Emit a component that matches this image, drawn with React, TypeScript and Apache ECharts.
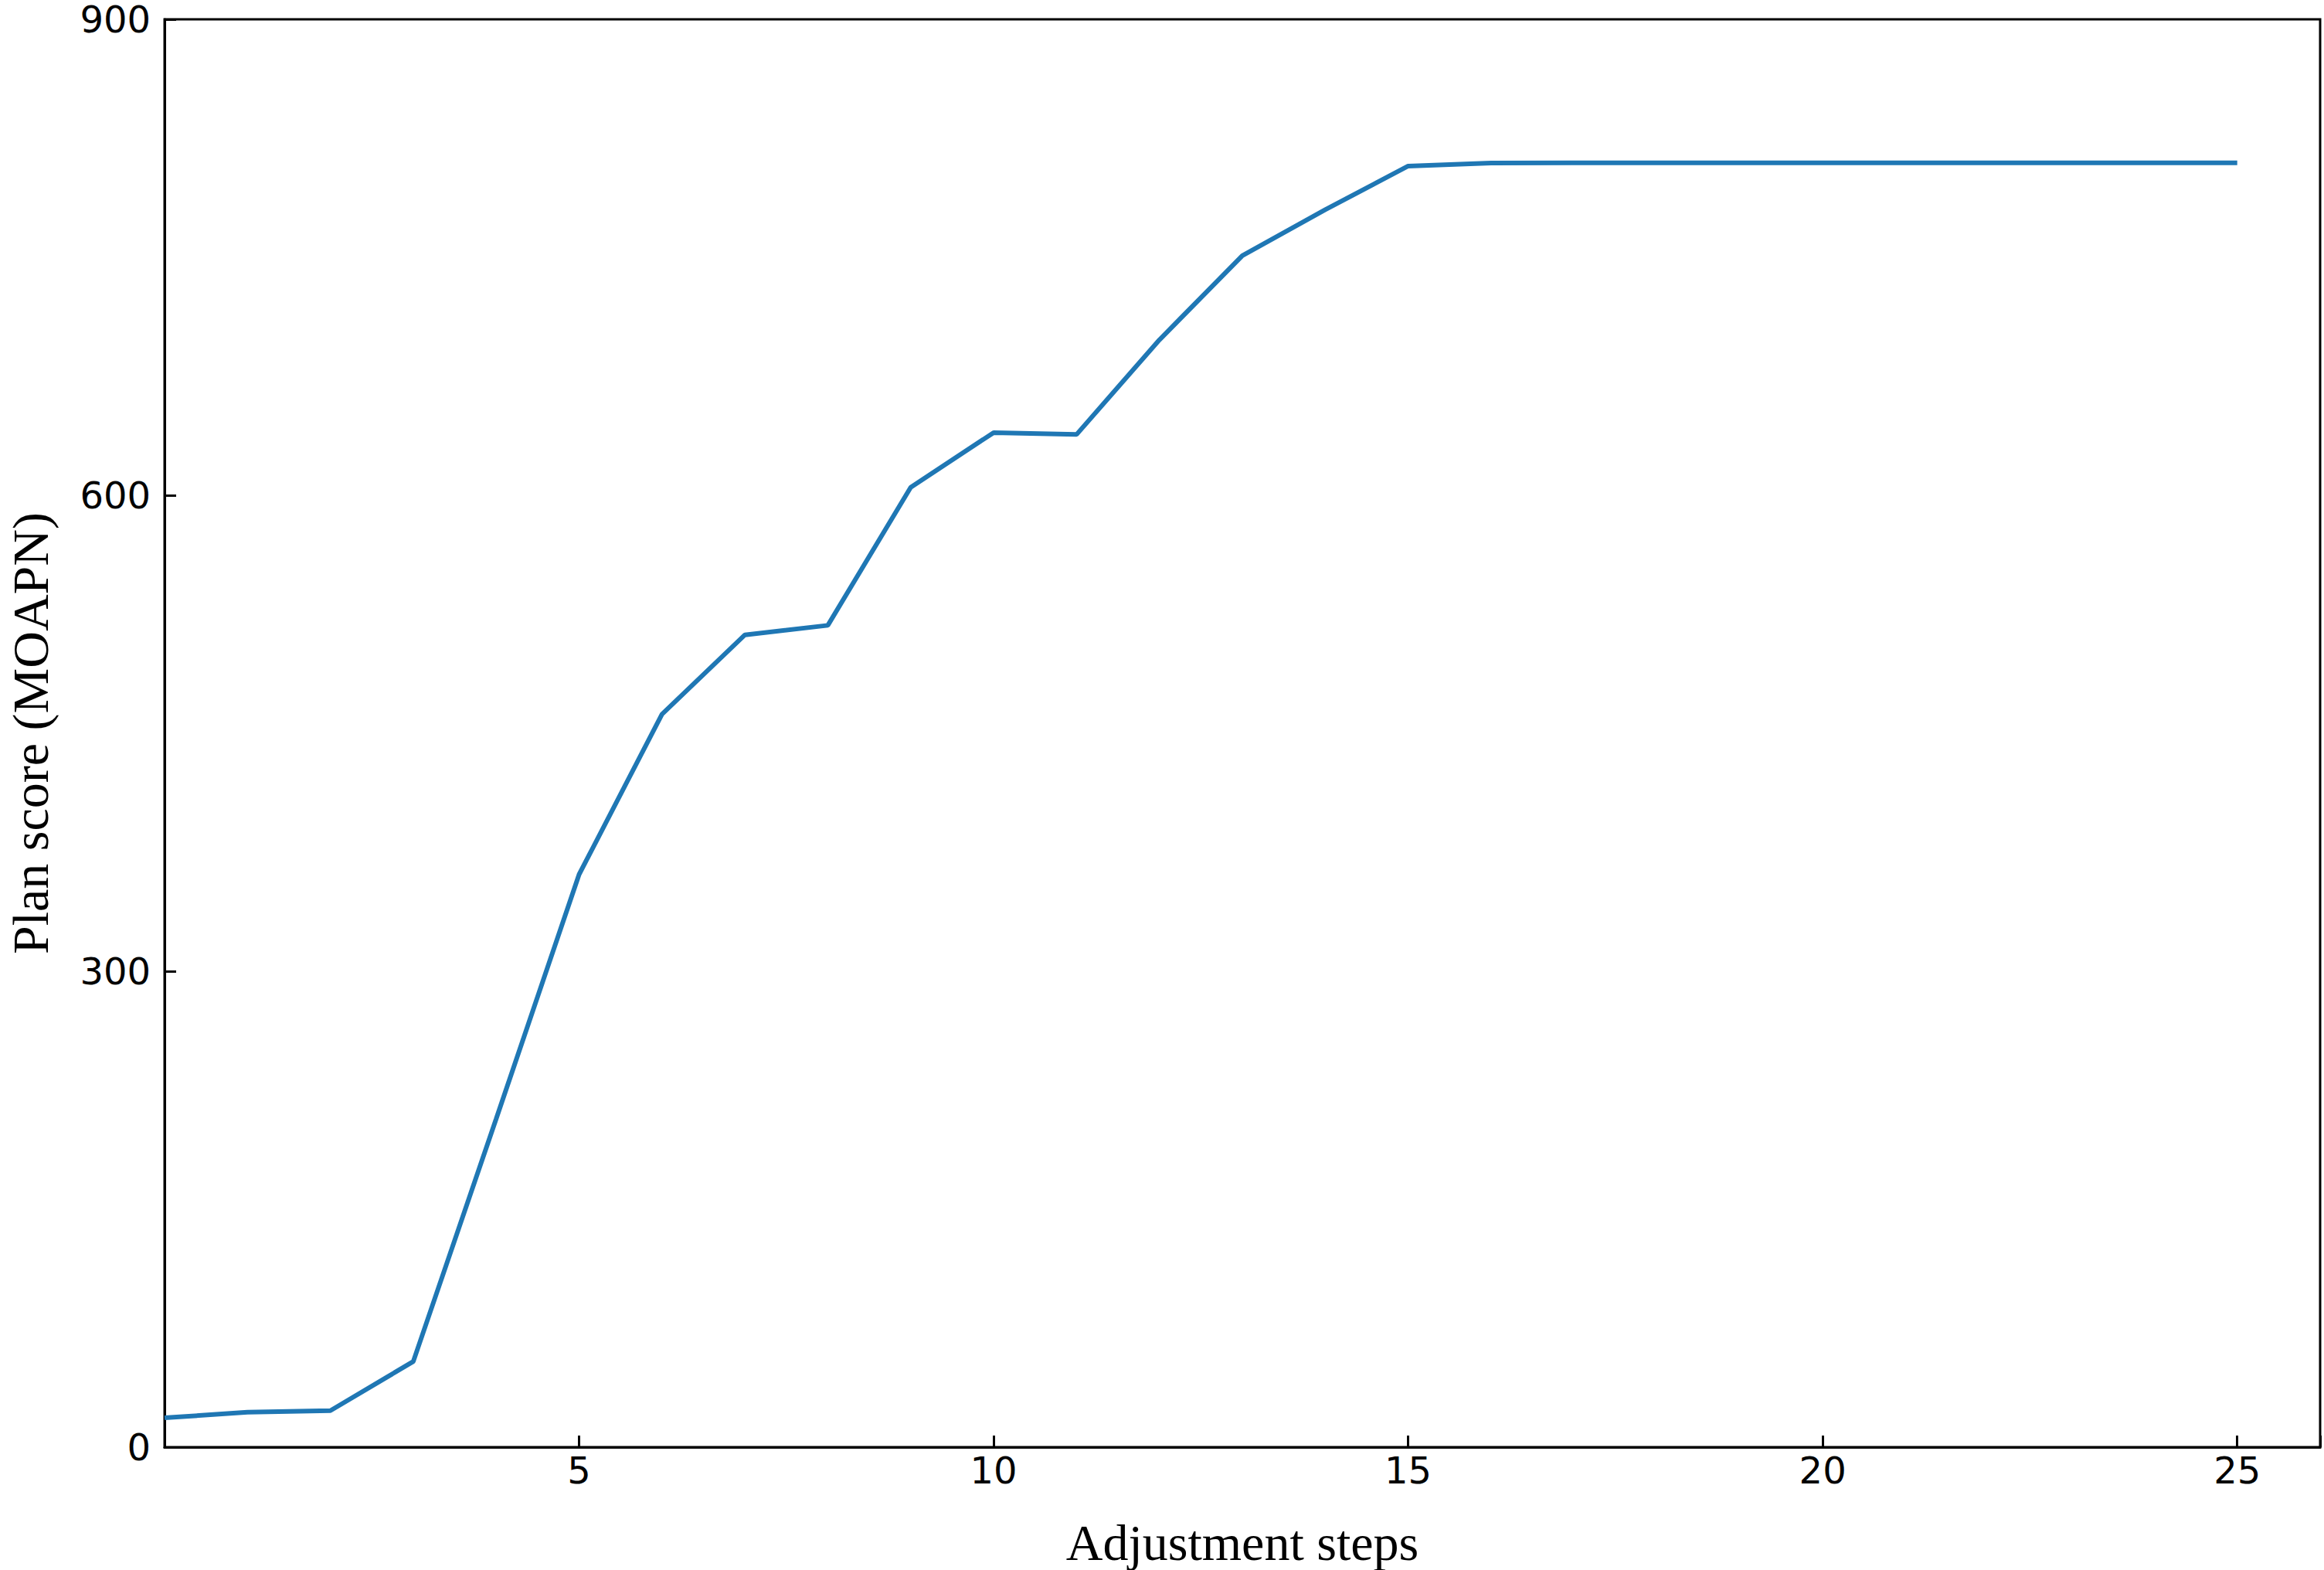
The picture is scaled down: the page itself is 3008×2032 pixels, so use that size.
import React, { useEffect, useRef } from "react";
import * as echarts from "echarts";

const steps = [0, 1, 2, 3, 4, 5, 6, 7, 8, 9, 10, 11, 12, 13, 14, 15, 16, 17, 18, 19, 20, 21, 22, 23, 24, 25];
const scores = [18.5, 22, 23, 54, 207, 361, 462, 512, 518, 605, 639.5, 638.3, 698, 751, 780, 807.5, 809.4, 809.5, 809.5, 809.5, 809.5, 809.5, 809.5, 809.5, 809.5, 809.5];
const xTitle = "Adjustment steps";
const yTitle = "Plan score (MOAPN)";

export default function App() {
  const ref = useRef<HTMLDivElement>(null);
  useEffect(() => {
    const chart = echarts.init(ref.current!, null, { renderer: "svg" });
    chart.setOption({
      animation: false,
      backgroundColor: "#ffffff",
      grid: {
        left: 213,
        right: 5,
        top: 25,
        bottom: 159,
        containLabel: false,
        outerBoundsMode: "none",
        show: true,
        borderColor: "#000",
        borderWidth: 3,
        backgroundColor: "transparent",
      },
      xAxis: {
        type: "value",
        min: 0,
        max: 26,
        interval: 5,
        name: xTitle,
        nameLocation: "middle",
        nameGap: 90,
        nameTextStyle: { fontFamily: "Liberation Serif", fontSize: 66, color: "#000" },
        axisLine: { show: true, lineStyle: { color: "#000", width: 3 } },
        axisTick: { show: true, inside: true, length: 15, lineStyle: { color: "#000", width: 3 } },
        axisLabel: {
          fontFamily: "DejaVu Sans",
          fontSize: 48,
          lineHeight: 48,
          color: "#000",
          margin: 6,
          formatter: (v: number) => (v === 0 || v % 5 !== 0 ? "" : String(v)),
        },
        splitLine: { show: false },
      },
      yAxis: {
        type: "value",
        min: 0,
        max: 900,
        interval: 300,
        name: yTitle,
        nameLocation: "middle",
        nameGap: 144,
        nameTextStyle: { fontFamily: "Liberation Serif", fontSize: 66, lineHeight: 60, color: "#000" },
        axisLine: { show: true, lineStyle: { color: "#000", width: 3 } },
        axisTick: { show: true, inside: true, length: 15, lineStyle: { color: "#000", width: 3 } },
        axisLabel: { fontFamily: "DejaVu Sans", fontSize: 48, lineHeight: 38, color: "#000", margin: 18 },
        splitLine: { show: false },
      },
      series: [
        {
          type: "line",
          data: steps.map((s, i) => [s, scores[i]]),
          showSymbol: false,
          lineStyle: { color: "#1f77b4", width: 6 },
          itemStyle: { color: "#1f77b4" },
        },
      ],
    });
    return () => chart.dispose();
  }, []);
  return (
    <div
      ref={ref}
      style={{ position: "absolute", left: 0, top: 0, width: 3008, height: 2032, background: "#fff" }}
    />
  );
}
